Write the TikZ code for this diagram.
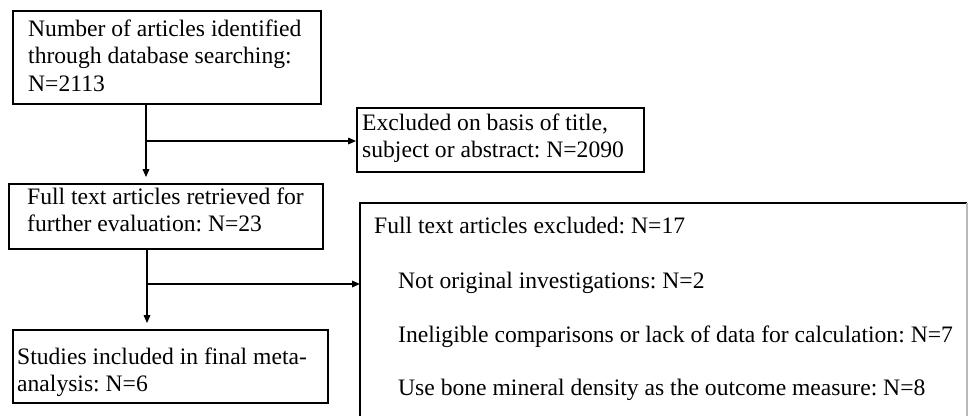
\documentclass[tikz,border=0pt]{standalone}
\usepackage{fontspec}
\setmainfont{Liberation Serif}
\usetikzlibrary{arrows.meta,calc}
\frenchspacing
\begin{document}
\begin{tikzpicture}[x=1pt,y=-1pt,
  box/.style={draw=black,line width=1.7pt,inner sep=0pt},
  txt/.style={anchor=base west,inner sep=0pt,font=\fontsize{23.6pt}{27.6pt}\selectfont},
  arr/.style={line width=1.6pt,-{Triangle[length=8pt,width=6.5pt]}}]
\useasboundingbox (0,0) rectangle (968,415);
% boxes
\node[box,minimum width=308pt,minimum height=93pt] (b1) at (167,57.5) {};
\node[box,minimum width=314pt,minimum height=65pt] (b2) at (166,216.5) {};
\node[box,minimum width=315pt,minimum height=73pt] (b3) at (170.5,366.5) {};
\node[box,minimum width=287pt,minimum height=64pt] (ex1) at (500.5,140) {};
% big box (bottom cut off by the page)
\coordinate (ex2) at (360,284);
\draw[line width=1.7pt] (360,430) -- (360,203) -- (967,203);
\draw[line width=1.2pt,gray!55] (967,203) -- (967,430);
% texts
\node[txt] (t11) at (28,36) {Number of articles identified};
\node[txt] (t12) at (28,63.6) {through database searching:};
\node[txt] (t13) at (28,91.2) {N=2113};
\node[txt] (t21) at (27,204) {Full text articles retrieved for};
\node[txt] (t22) at (27,231.6) {further evaluation: N=23};
\node[txt] (t31) at (17,364) {Studies included in final meta-};
\node[txt] (t32) at (17,391.6) {analysis: N=6};
\node[txt] (e11) at (362,130) {Excluded on basis of title,};
\node[txt] (e12) at (362,157.6) {subject or abstract: N=2090};
\node[txt] (e21) at (374,233) {Full text articles excluded: N=17};
\node[txt] (e22) at (398,288) {Not original investigations: N=2};
\node[txt] (e23) at (398,342) {Ineligible comparisons or lack of data for calculation: N=7};
\node[txt] (e24) at (398,395.5) {Use bone mineral density as the outcome measure: N=8};
% connectors
\coordinate (j1) at (146,141);
\coordinate (j2) at (147,284);
\draw[arr,shorten >=6pt] (b1.south -| j1) -- (b2.north -| j1);
\draw[arr] (j1) -- (j1 -| ex1.west);
\draw[arr,shorten >=6pt] (b2.south -| j2) -- (b3.north -| j2);
\draw[arr] (j2) -- (ex2);
\end{tikzpicture}
\end{document}
